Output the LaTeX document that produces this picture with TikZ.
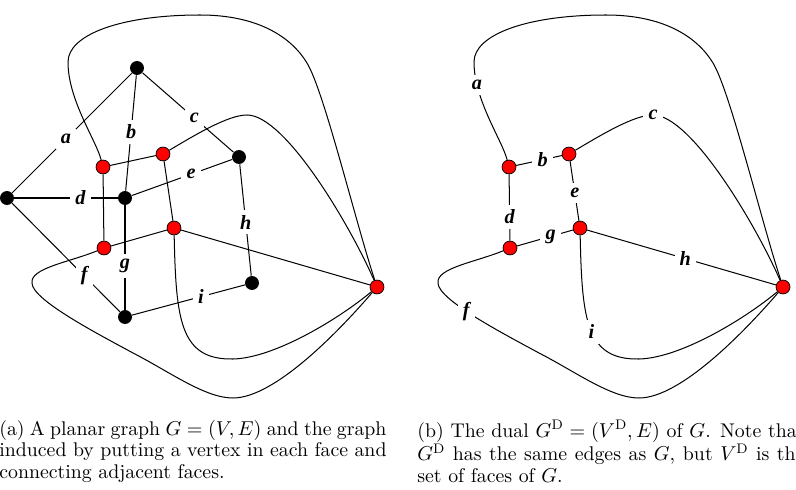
\documentclass[tikz,border=0pt]{standalone}
\usepackage{fontspec}
\newfontfamily\lblfont{Liberation Serif}
\usetikzlibrary{backgrounds}
\begin{document}
\begin{tikzpicture}[x=0.545pt,y=-0.545pt,
  edge/.style={line width=0.55pt},
  bv/.style={circle,fill=black,minimum size=7.6pt,inner sep=0pt},
  rv/.style={circle,draw=black,fill=red,line width=0.4pt,minimum size=7.6pt,inner sep=0pt},
  lbl/.style={fill=white,inner sep=2.8pt,font={\fontsize{11}{12}\selectfont\lblfont\bfseries\itshape}},
  captext/.style={anchor=north west,inner sep=0pt,text width=211pt,align=justify,font={\fontsize{10.8}{11.7}\selectfont}}]
\useasboundingbox (0,0) rectangle (796,490);
% ---------- left: primal graph ----------
\node[bv] (t) at (137,68) {};
\node[bv] (l) at (7,198) {};
\node[bv] (m) at (125,198) {};
\node[bv] (r) at (239,157) {};
\node[bv] (br) at (252,283) {};
\node[bv] (bo) at (125,317) {};
% faces of primal
\node[rv] (L1) at (103,167) {};
\node[rv] (L2) at (163,154) {};
\node[rv] (L3) at (174,228) {};
\node[rv] (L4) at (104,248) {};
\node[rv] (L5) at (377,287) {};
\begin{scope}[on background layer]
\draw[edge] (t) -- node[lbl,pos=0.55]{a} (l);
\draw[edge] (t) -- node[lbl,pos=0.49]{b} (m);
\draw[edge] (t) -- node[lbl,pos=0.57]{c} (r);
\draw[edge] (l) -- node[lbl,pos=0.64]{d} (m);
\draw[edge] (m) -- node[lbl,pos=0.59]{e} (r);
\draw[edge] (r) -- node[lbl,pos=0.52]{h} (br);
\draw[edge] (m) -- node[lbl,pos=0.58]{g} (bo);
\draw[edge] (l) -- node[lbl,pos=0.67]{f} (bo);
\draw[edge] (bo) -- node[lbl,pos=0.61]{i} (br);
% dual edges
\draw[edge] (L1) -- (L2);
\draw[edge] (L1) -- (L4);
\draw[edge] (L2) -- (L3);
\draw[edge] (L4) -- (L3);
\draw[edge] (L3) -- (L5);
\draw[edge] (L1) .. controls (96,140) and (68,100) .. (68,62)
  .. controls (68,35) and (120,15) .. (200,15)
  .. controls (255,15) and (290,35) .. (307,63)
  .. controls (324,91) and (355,220) .. (L5);
\draw[edge] (L2) .. controls (195,135) and (228,115) .. (247,115)
  .. controls (285,115) and (350,225) .. (L5);
\draw[edge] (L3) .. controls (176,320) and (180,360) .. (233,359)
  .. controls (275,358) and (340,318) .. (L5);
\draw[edge] (L4) .. controls (70,262) and (30,268) .. (32,283)
  .. controls (32,300) and (100,335) .. (133,353)
  .. controls (170,372) and (205,398) .. (233,398)
  .. controls (275,398) and (340,330) .. (L5);
\end{scope}
% ---------- right: dual graph ----------
\begin{scope}[xshift=221.27pt]
\node[rv] (D1) at (103,167) {};
\node[rv] (D2) at (163,154) {};
\node[rv] (D3) at (174,228) {};
\node[rv] (D4) at (104,248) {};
\node[rv] (D5) at (377,287) {};
\begin{scope}[on background layer]
\draw[edge] (D1) -- node[lbl,pos=0.58]{b} (D2);
\draw[edge] (D1) -- node[lbl,pos=0.64]{d} (D4);
\draw[edge] (D2) -- node[lbl,pos=0.53]{e} (D3);
\draw[edge] (D4) -- node[lbl,pos=0.6]{g} (D3);
\draw[edge] (D3) -- node[lbl,pos=0.52]{h} (D5);
\draw[edge] (D1) .. controls (96,140) and (68,100) .. node[lbl,pos=0.8]{a} (68,62)
  .. controls (68,35) and (120,15) .. (200,15)
  .. controls (255,15) and (290,35) .. (307,63)
  .. controls (324,91) and (355,220) .. (D5);
\draw[edge] (D2) .. controls (195,135) and (228,115) .. (247,115) node[lbl]{c}
  .. controls (285,115) and (350,225) .. (D5);
\draw[edge] (D3) .. controls (176,320) and (180,360) .. node[lbl,pos=0.52]{i} (233,359)
  .. controls (275,358) and (340,318) .. (D5);
\draw[edge] (D4) .. controls (70,262) and (30,268) .. (32,283)
  .. controls (32,300) and (100,335) .. node[lbl,pos=0.42]{f} (133,353)
  .. controls (170,372) and (205,398) .. (233,398)
  .. controls (275,398) and (340,330) .. (D5);
\end{scope}
\end{scope}
% ---------- captions ----------
\node[captext] (capa) at (-1,420) {(a) A planar graph $G=(V,E)$ and the graph\linebreak
induced by putting a vertex in each face and\linebreak connecting adjacent faces.};
\node[captext] (capb) at (417,420) {(b) The dual $G^{\mathrm{D}}=(V^{\mathrm{D}},E)$ of $G$. Note that\linebreak
$G^{\mathrm{D}}$ has the same edges as $G$, but $V^{\mathrm{D}}$ is the\linebreak set of faces of $G$.};
\end{tikzpicture}
\end{document}
